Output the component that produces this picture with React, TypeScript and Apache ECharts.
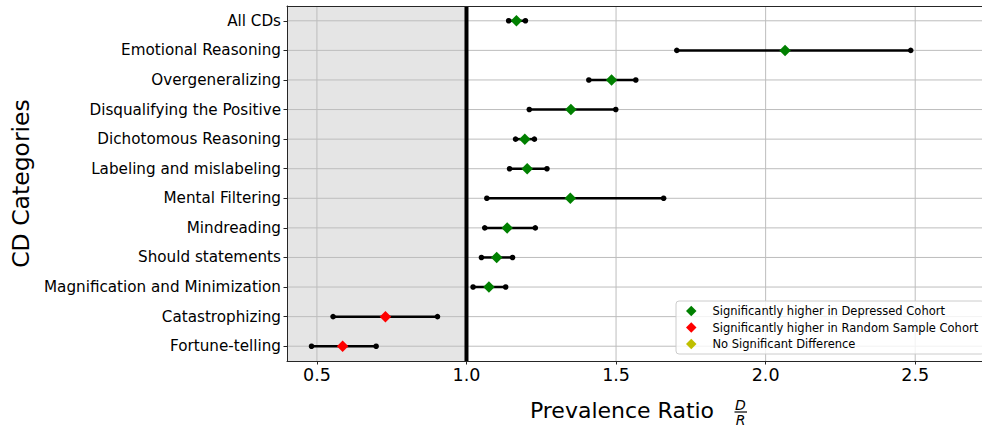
import React, { useEffect, useRef } from "react";
import * as echarts from "echarts";

const categories = [
  "All CDs",
  "Emotional Reasoning",
  "Overgeneralizing",
  "Disqualifying the Positive",
  "Dichotomous Reasoning",
  "Labeling and mislabeling",
  "Mental Filtering",
  "Mindreading",
  "Should statements",
  "Magnification and Minimization",
  "Catastrophizing",
  "Fortune-telling",
];
const ratios = [1.167, 2.065, 1.485, 1.349, 1.195, 1.203, 1.347, 1.136, 1.101, 1.075, 0.729, 0.586];
const lowerBounds = [1.141, 1.703, 1.409, 1.21, 1.164, 1.144, 1.068, 1.061, 1.05, 1.022, 0.554, 0.482];
const upperBounds = [1.197, 2.485, 1.566, 1.499, 1.227, 1.269, 1.659, 1.23, 1.154, 1.131, 0.903, 0.698];
// D = higher in Depressed cohort, R = higher in Random sample cohort, N = no significant difference
const significance = ["D", "D", "D", "D", "D", "D", "D", "D", "D", "D", "R", "R"];
const xTicks = [0.5, 1.0, 1.5, 2.0, 2.5];
const xMin = 0.4;
const xMax = 2.73;
const referenceRatio = 1.0;

const groups = [
  { key: "D", name: "Significantly higher in Depressed Cohort", color: "#008000" },
  { key: "R", name: "Significantly higher in Random Sample Cohort", color: "#ff0000" },
  { key: "N", name: "No Significant Difference", color: "#bfbf00" },
];

const FONT = "DejaVu Sans";

export default function App() {
  const ref = useRef<HTMLDivElement>(null);

  useEffect(() => {
    if (!ref.current) return;
    const chart = echarts.init(ref.current, undefined, { renderer: "svg" });

    const scatterSeries = groups.map((g) => ({
      type: "scatter",
      name: g.name,
      xAxisIndex: 0,
      yAxisIndex: 0,
      symbol: "diamond",
      symbolSize: 11.5,
      z: 6,
      itemStyle: { color: g.color, opacity: 1 },
      data: ratios
        .map((v, i) => (significance[i] === g.key ? [v, i] : null))
        .filter((d) => d !== null),
    }));

    const option: any = {
      animation: false,
      backgroundColor: "#ffffff",
      textStyle: { fontFamily: FONT },
      grid: { left: 287, top: 6, width: 697, height: 355, containLabel: false, outerBoundsMode: "none" },
      xAxis: [
        {
          type: "value",
          min: xMin,
          max: xMax,
          position: "bottom",
          z: 10,
          axisLine: { show: true, lineStyle: { color: "#262626", width: 1 } },
          axisTick: { show: true, length: 3.5, lineStyle: { color: "#262626" }, customValues: xTicks },
          axisLabel: {
            customValues: xTicks,
            margin: 5,
            fontSize: 17.5,
            color: "#000",
            fontFamily: FONT,
            formatter: (v: number) => v.toFixed(1),
          },
          splitLine: { show: false },
          name: "Prevalence Ratio",
          nameLocation: "middle",
          nameGap: 38,
          nameTextStyle: { fontSize: 22, color: "#000", fontFamily: FONT, padding: [0, 27, 0, 0] },
        },
        {
          type: "value",
          min: xMin,
          max: xMax,
          position: "top",
          z: 10,
          axisLine: { show: true, lineStyle: { color: "#262626", width: 1 } },
          axisTick: { show: false },
          axisLabel: { show: false },
          splitLine: { show: false },
        },
      ],
      yAxis: {
        type: "category",
        data: categories,
        inverse: true,
        z: 10,
        axisLine: { show: true, lineStyle: { color: "#262626", width: 1 } },
        axisTick: { show: true, alignWithLabel: true, length: 3.5, lineStyle: { color: "#262626" } },
        axisLabel: { margin: 6, fontSize: 15.2, color: "#000", fontFamily: FONT },
        splitLine: { show: false },
        name: "CD Categories",
        nameLocation: "middle",
        nameGap: 253,
        nameTextStyle: { fontSize: 23.5, color: "#000", fontFamily: FONT },
      },
      legend: {
        data: groups.map((g) => g.name),
        orient: "vertical",
        left: 676,
        top: 301,
        z: 20,
        icon: "diamond",
        itemWidth: 10.5,
        itemHeight: 10.5,
        itemGap: 4.5,
        padding: [4, 6, 4, 10],
        backgroundColor: "rgba(255,255,255,0.8)",
        borderColor: "#cccccc",
        borderWidth: 1,
        borderRadius: 3,
        selectedMode: false,
        textStyle: { fontSize: 11.5, lineHeight: 12, color: "#000", fontFamily: FONT, padding: [0, 0, 0, 11] },
      },
      graphic: [
        {
          type: "text",
          x: 740.5,
          y: 404.5,
          style: { text: "D", font: `italic 14px "${FONT}"`, fill: "#000", textAlign: "center", textVerticalAlign: "middle" },
        },
        {
          type: "line",
          shape: { x1: 734.5, y1: 412, x2: 747, y2: 412 },
          style: { stroke: "#000", lineWidth: 1.2 },
        },
        {
          type: "text",
          x: 740.5,
          y: 420,
          style: { text: "R", font: `italic 14px "${FONT}"`, fill: "#000", textAlign: "center", textVerticalAlign: "middle" },
        },
      ],
      series: [
        {
          type: "custom",
          name: "shade",
          z: 1,
          silent: true,
          encode: { x: [0, 1] },
          data: [[xMin, referenceRatio]],
          renderItem: (params: any, api: any) => {
            const cs = params.coordSys;
            const x0 = api.coord([api.value(0), 0])[0];
            const x1 = api.coord([api.value(1), 0])[0];
            return {
              type: "rect",
              shape: { x: Math.max(x0, cs.x), y: cs.y, width: x1 - Math.max(x0, cs.x), height: cs.height },
              style: { fill: "#e5e5e5" },
            };
          },
        },
        {
          type: "custom",
          name: "hgrid",
          z: 2,
          silent: true,
          encode: { x: 0, y: 1 },
          data: categories.map((_, i) => [xMin, i]),
          renderItem: (params: any, api: any) => {
            const cs = params.coordSys;
            const y = api.coord([api.value(0), api.value(1)])[1];
            return {
              type: "line",
              shape: { x1: cs.x, y1: y, x2: cs.x + cs.width, y2: y },
              style: { stroke: "#bdbdbd", lineWidth: 1 },
            };
          },
        },
        {
          type: "custom",
          name: "vgrid",
          z: 2,
          silent: true,
          encode: { x: 0 },
          data: xTicks.map((v) => [v, 0]),
          renderItem: (params: any, api: any) => {
            const cs = params.coordSys;
            const x = api.coord([api.value(0), 0])[0];
            return {
              type: "line",
              shape: { x1: x, y1: cs.y, x2: x, y2: cs.y + cs.height },
              style: { stroke: "#bdbdbd", lineWidth: 1 },
            };
          },
        },
        {
          type: "custom",
          name: "refline",
          z: 3,
          silent: true,
          encode: { x: 0 },
          data: [[referenceRatio, 0]],
          renderItem: (params: any, api: any) => {
            const cs = params.coordSys;
            const x = api.coord([api.value(0), 0])[0];
            return {
              type: "line",
              shape: { x1: x, y1: cs.y, x2: x, y2: cs.y + cs.height },
              style: { stroke: "#000", lineWidth: 4 },
            };
          },
        },
        {
          type: "custom",
          name: "errorbars",
          z: 4,
          silent: true,
          encode: { x: [0, 1], y: 2 },
          data: categories.map((_, i) => [lowerBounds[i], upperBounds[i], i]),
          renderItem: (params: any, api: any) => {
            const p0 = api.coord([api.value(0), api.value(2)]);
            const p1 = api.coord([api.value(1), api.value(2)]);
            return {
              type: "group",
              children: [
                {
                  type: "line",
                  shape: { x1: p0[0], y1: p0[1], x2: p1[0], y2: p1[1] },
                  style: { stroke: "#000", lineWidth: 2.5 },
                },
                { type: "circle", shape: { cx: p0[0], cy: p0[1], r: 2.8 }, style: { fill: "#000" } },
                { type: "circle", shape: { cx: p1[0], cy: p1[1], r: 2.8 }, style: { fill: "#000" } },
              ],
            };
          },
        },
        ...scatterSeries,
      ],
    };

    chart.setOption(option);
    return () => chart.dispose();
  }, []);

  return (
    <div
      ref={ref}
      style={{ position: "absolute", left: 0, top: 0, width: 982, height: 430 }}
    />
  );
}
